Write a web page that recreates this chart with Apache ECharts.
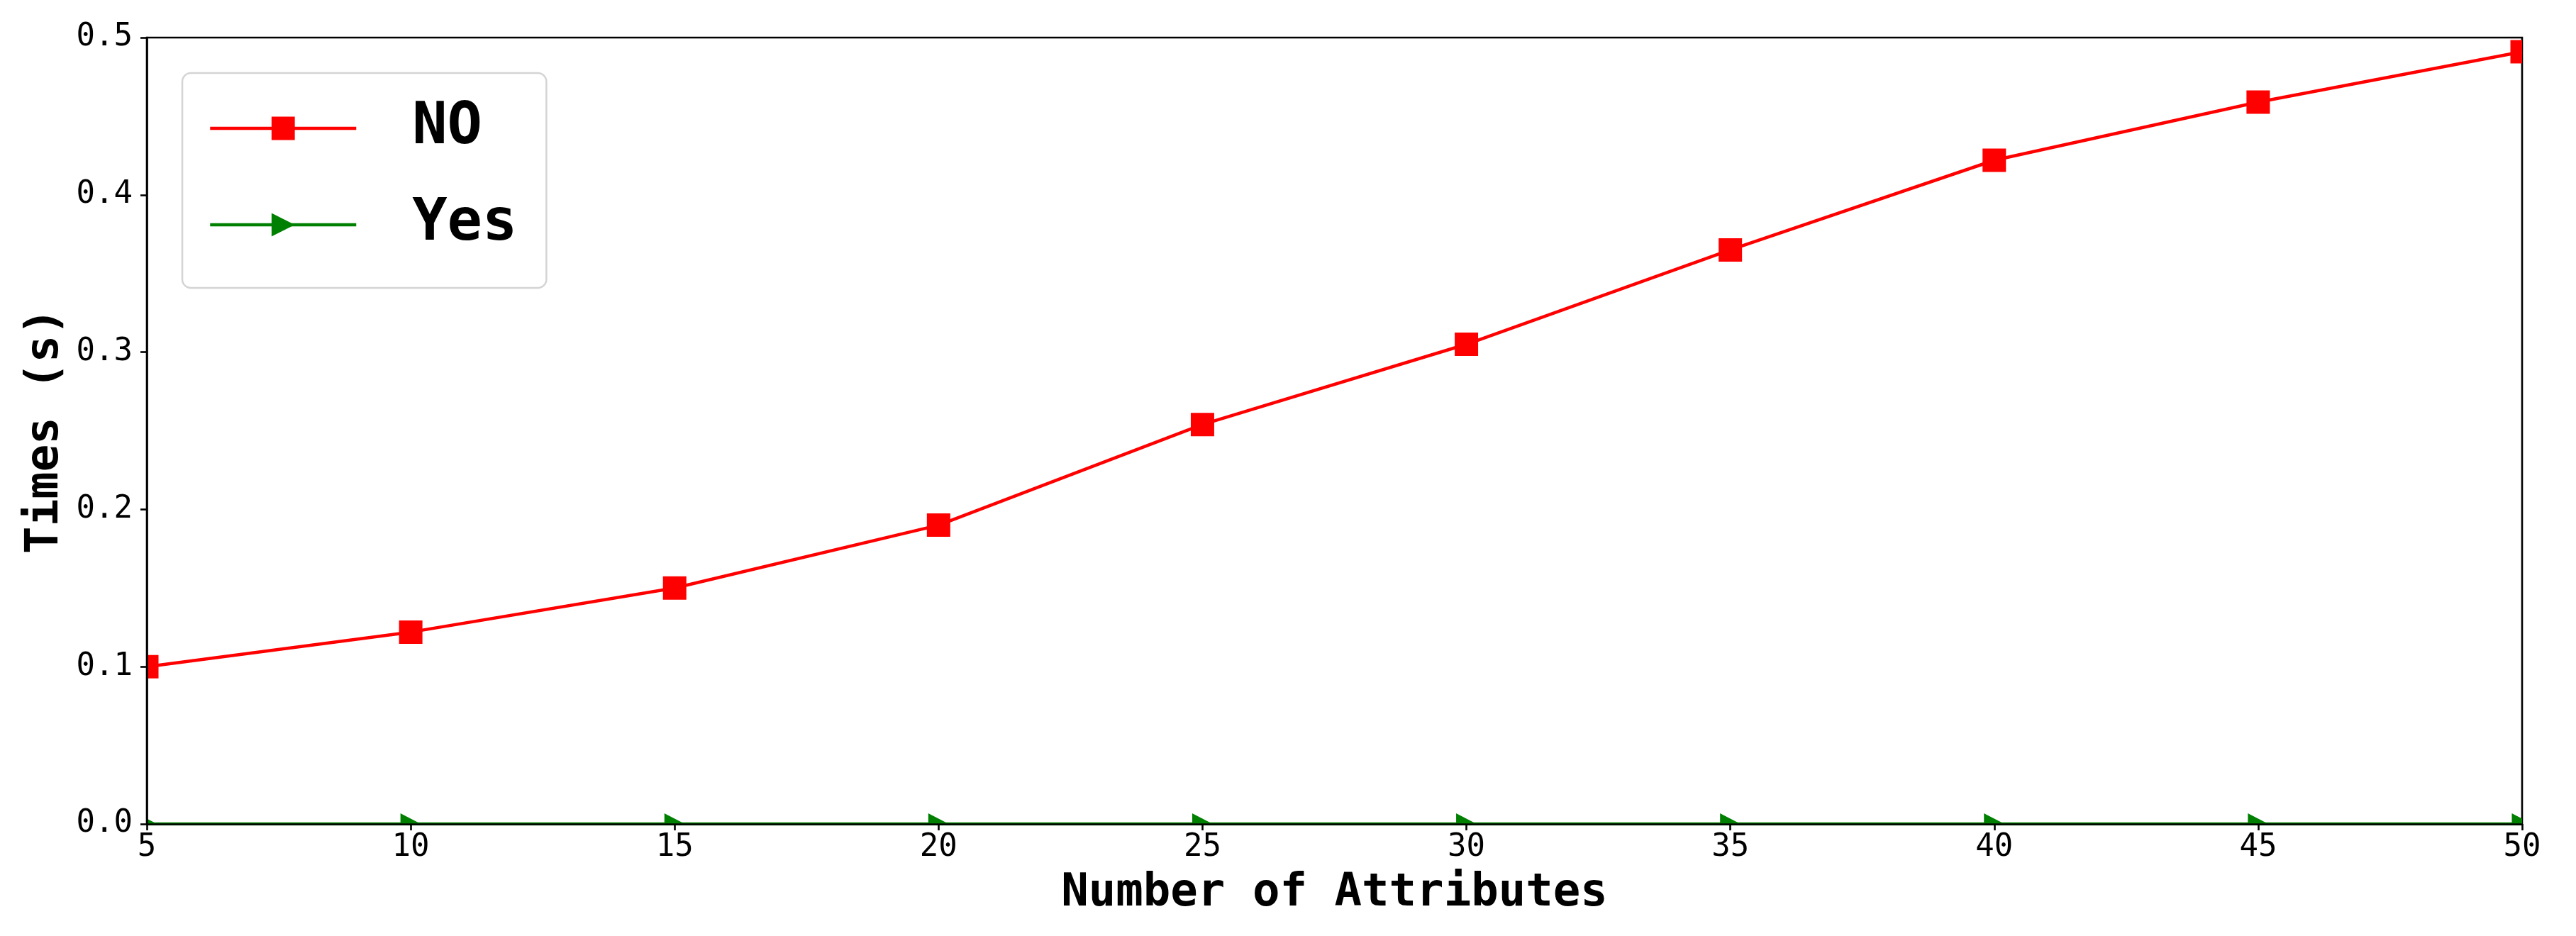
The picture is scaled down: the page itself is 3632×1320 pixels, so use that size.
<!DOCTYPE html>
<html>
<head>
<meta charset="utf-8">
<script src="https://cdn.jsdelivr.net/npm/echarts@6/dist/echarts.min.js"></script>
<style>
html,body{margin:0;padding:0;background:#fff;}
#chart{width:3632px;height:1320px;}
</style>
</head>
<body>
<div id="chart"></div>
<script>
// ---- data ----
const attributes = [5, 10, 15, 20, 25, 30, 35, 40, 45, 50];
const timesNo = [0.100, 0.122, 0.150, 0.190, 0.254, 0.305, 0.365, 0.422, 0.459, 0.491];
const timesYes = [0, 0, 0, 0, 0, 0, 0, 0, 0, 0];
const seriesNames = ['NO', 'Yes'];
const xAxisTitle = 'Number of Attributes';
const yAxisTitle = 'Times (s)';

const FONT = '"DejaVu Sans Mono", monospace';
const last = attributes.length - 1;

// red squares: clipped by the axes at both ends like the reference
const noData = attributes.map((x, i) => {
  const d = { value: [x, timesNo[i]] };
  if (i === 0) { d.symbolSize = [16.5, 33]; d.symbolOffset = [8.25, 0]; }
  if (i === last) { d.symbolSize = [16.5, 33]; d.symbolOffset = [-8.25, 0]; }
  return d;
});
// green right-pointing triangles sitting on the x axis: only the upper half is visible
const yesData = attributes.map((x, i) => {
  const d = { value: [x, timesYes[i]], symbolRotate: 0 };
  if (i === 0) {
    d.symbol = 'path://M0,0 L1,1 L0,1 Z'; d.symbolSize = [14.5, 7.5]; d.symbolOffset = [7.25, -3.75];
  } else if (i === last) {
    d.symbol = 'path://M0,0 L2,1 L2,2 L0,2 Z'; d.symbolSize = [14.5, 15]; d.symbolOffset = [-7.25, -7.5];
  } else {
    d.symbol = 'path://M0,0 L2,1 L0,1 Z'; d.symbolSize = [29, 15]; d.symbolOffset = [0, -7.5];
  }
  return d;
});

const chart = echarts.init(document.getElementById('chart'), null, {renderer: 'canvas'});
chart.setOption({
  backgroundColor: '#ffffff',
  animation: false,
  textStyle: { fontFamily: FONT, color: '#000' },
  grid: {
    left: 207, right: 76, top: 53, bottom: 158,
    show: true, borderColor: '#000', borderWidth: 2.6, backgroundColor: 'transparent'
  },
  legend: {
    orient: 'vertical',
    left: 257, top: 103,
    data: seriesNames,
    itemWidth: 206, itemHeight: 41, itemGap: 54,
    padding: [37, 41, 48, 37],
    borderColor: '#d4d4d4', borderWidth: 2.5, borderRadius: 12,
    backgroundColor: '#fff',
    lineStyle: { width: 4.5 },
    textStyle: { fontFamily: FONT, fontSize: 82, fontWeight: 'bold', color: '#000', padding: [0, 0, 0, 74] }
  },
  xAxis: {
    type: 'value', min: 5, max: 50, interval: 5, z: 3,
    name: xAxisTitle, nameLocation: 'middle', nameGap: 66,
    nameTextStyle: { fontFamily: FONT, fontSize: 64, fontWeight: 'bold', color: '#000' },
    axisLine: { show: true, onZero: false, lineStyle: { color: '#000', width: 2.6 } },
    axisTick: { show: true, inside: false, length: 9, lineStyle: { color: '#000', width: 2.6 } },
    axisLabel: { fontFamily: FONT, fontSize: 44, color: '#000', margin: 12 },
    splitLine: { show: false }
  },
  yAxis: {
    type: 'value', min: 0, max: 0.5, interval: 0.1, z: 3,
    name: yAxisTitle, nameLocation: 'middle', nameGap: 100, nameRotate: 90,
    nameTextStyle: { fontFamily: FONT, fontSize: 64, fontWeight: 'bold', color: '#000' },
    axisLine: { show: true, onZero: false, lineStyle: { color: '#000', width: 2.6 } },
    axisTick: { show: true, inside: false, length: 9, lineStyle: { color: '#000', width: 2.6 } },
    axisLabel: { fontFamily: FONT, fontSize: 44, color: '#000', margin: 20,
      formatter: v => v.toFixed(1) },
    splitLine: { show: false }
  },
  series: [
    {
      name: seriesNames[0], type: 'line', data: noData,
      symbol: 'rect', symbolSize: 33, showAllSymbol: true,
      lineStyle: { color: '#ff0000', width: 4.5 },
      itemStyle: { color: '#ff0000' },
      z: 2
    },
    {
      name: seriesNames[1], type: 'line', data: yesData,
      symbol: 'triangle', symbolRotate: -90, symbolSize: 30, showAllSymbol: true,
      lineStyle: { color: '#008000', width: 4.5 },
      itemStyle: { color: '#008000' },
      z: 2
    }
  ]
});
</script>
</body>
</html>
